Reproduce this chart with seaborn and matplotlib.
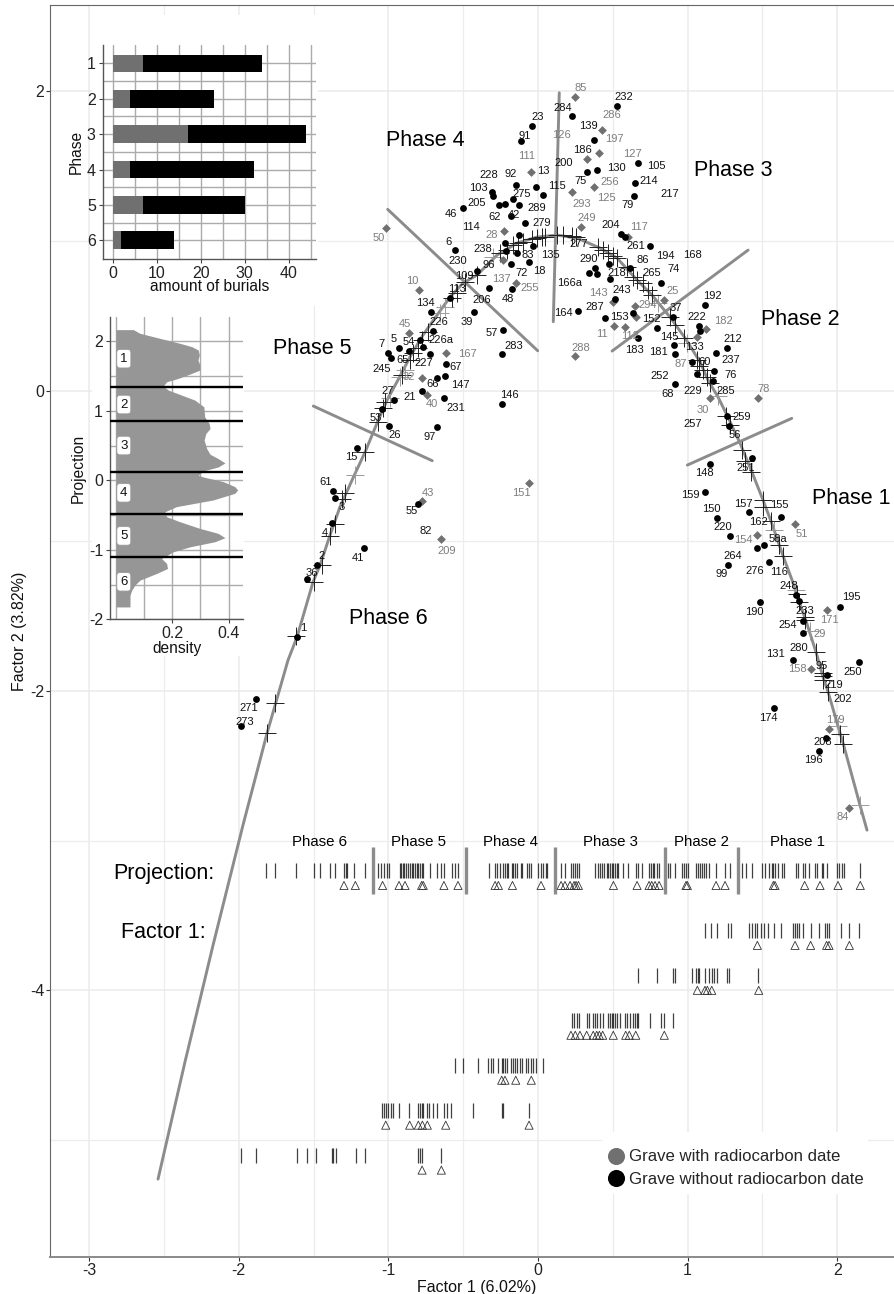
import pandas as pd
import matplotlib
matplotlib.use('Agg')
import matplotlib.pyplot as plt
from matplotlib.lines import Line2D
from matplotlib.patches import Rectangle
import seaborn as sns

# graves, correspondence analysis
black_x = [0.530, 0.227, -0.042, -0.114, 0.372, 0.328, 0.392, 0.670, 0.648, 0.644, -0.145, -0.013, 0.035, -0.307,
           -0.303, -0.165, -0.219, -0.263, -0.125, -0.503, -0.180, -0.085, -0.127, -0.223, -0.033, -0.140, -0.214,
           -0.553, -0.062, -0.182, -0.406, -0.176, -0.328, -0.588, -0.717, -0.430, -0.234, -0.243, -0.700, -0.789,
           -0.767, -0.927, -0.862, -1.001, -0.985, -0.720, -0.617, -0.622, -0.673, 0.553, 0.582, 0.749, 0.475, 0.381,
           0.343, 0.394, 0.483, 0.617, 0.265, 0.515, 0.448, 0.637, 0.670, 1.116, 0.904, 1.078, 1.083, 0.797, 0.911,
           0.916, 1.263, 1.192, 1.031, 1.176, 1.063, 1.172, 0.914, 1.265, 1.277, 1.430, 1.152, 1.116, 1.412, 1.622,
           1.197, 1.285, 1.462, 1.513, 1.544, 1.272, 1.725, 1.745, 1.484, 2.021, 1.771, 1.771, 2.148, 1.707, 1.932,
           1.580, 1.923, 1.880, -0.773, -0.630, -0.965, -1.041, -0.998, -0.673, -1.212, -1.372, -1.355, -1.379,
           -1.479, -1.542, -1.609, -1.163, -1.885, -1.985, -0.241, -0.802, 0.822]
black_y = [1.905, 1.834, 1.767, 1.667, 1.678, 1.462, 1.477, 1.524, 1.387, 1.304, 1.377, 1.362, 1.310, 1.328,
           1.302, 1.280, 1.250, 1.244, 1.242, 1.222, 1.168, 1.119, 1.039, 0.988, 0.968, 0.923, 0.933,
           0.941, 0.861, 0.846, 0.801, 0.681, 0.688, 0.621, 0.529, 0.527, 0.409, 0.245, 0.403, 0.340,
           0.296, 0.289, 0.269, 0.254, 0.222, 0.245, 0.180, 0.100, 0.089, 1.046, 1.030, 0.968, 0.846, 0.819,
           0.786, 0.783, 0.746, 0.821, 0.532, 0.614, 0.487, 0.522, 0.352, 0.574, 0.496, 0.436, 0.403, 0.423, 0.309,
           0.247, 0.289, 0.252, 0.194, 0.136, 0.113, 0.065, 0.049, -0.165, -0.232, -0.449, -0.485, -0.672, -0.810,
           -0.843, -0.846, -0.966, -1.050, -1.028, -1.140, -1.162, -1.360, -1.404, -1.411, -1.440, -1.537, -1.615,
           -1.809, -1.794, -1.898, -2.118, -2.318, -2.403, 0.002, -0.047, -0.060, -0.118, -0.234, -0.242, -0.380,
           -0.670, -0.714, -0.883, -1.160, -1.257, -1.640, -1.048, -2.056, -2.236, -0.087, -0.754, 0.723]

grey_x = [0.247, 0.426, 0.410, 0.326, -0.045, 0.225, 0.374, 0.285, 0.604, -0.227, -1.018, -0.149, -0.236, -0.797,
          -0.860, -0.617, -0.777, 0.247, 0.503, 0.506, 0.584, 0.650, 0.653, 0.844, 1.125, 1.065, 1.473, 1.152,
          1.716, 1.466, 1.934, 1.825, 1.945, 2.081, -0.744, -0.775, -0.648, -0.060]
grey_y = [1.961, 1.744, 1.591, 1.547, 1.462, 1.330, 1.362, 1.093, 1.030, 1.068, 1.086, 0.723, 0.874, 0.676,
          0.385, 0.252, 0.089, 0.232, 0.596, 0.434, 0.429, 0.569, 0.496, 0.607, 0.416, 0.358, -0.047, -0.049,
          -0.890, -0.959, -1.462, -1.854, -2.254, -2.782, -0.025, -0.734, -0.988, -0.614]

# principal curve
curve_x = [-2.540, -2.360, -2.172, -1.972, -1.811, -1.671, -1.611, -1.504, -1.457, -1.390, -1.324, -1.237, -1.156,
           -1.076, -1.009, -0.922, -0.856, -0.769, -0.675, -0.588, -0.501, -0.408, -0.274, -0.140, -0.007, 0.127,
           0.261, 0.414, 0.528, 0.662, 0.762, 0.882, 0.983, 1.083, 1.136, 1.203, 1.263, 1.350, 1.430, 1.504, 1.557,
           1.638, 1.698, 1.745, 1.785, 1.858, 1.905, 1.939, 2.005, 2.039, 2.152, 2.199]
curve_y = [-5.260, -4.479, -3.698, -2.897, -2.283, -1.796, -1.642, -1.275, -1.162, -0.961, -0.774, -0.581, -0.407,
           -0.214, -0.060, 0.100, 0.227, 0.374, 0.507, 0.628, 0.721, 0.774, 0.908, 0.988, 1.028, 1.041,
           1.021, 0.955, 0.888, 0.741, 0.641, 0.494, 0.354, 0.194, 0.073, -0.040, -0.160, -0.347, -0.541, -0.728,
           -0.868, -1.101, -1.262, -1.409, -1.515, -1.742, -1.909, -2.009, -2.236, -2.350, -2.764, -2.931]

# projections of the graves on the curve
cross_black_x = [1.729, 1.745, 1.785, 1.785, 1.858, 1.903, 1.907, 1.907, 1.936, 2.021, 2.041, 1.638, 1.611, 1.555,
                 1.506, 1.502, 1.426, 1.384, 1.362, 1.283, 1.255, 1.150, 1.128, 1.101, 1.078, 1.065, 0.976, 0.916,
                 0.882, 0.760, 0.735, 0.702, 0.660, 0.637, 0.593, 0.526, 0.503, 0.470, 0.436, 0.403, 0.254, 0.225,
                 0.169, 0.129, 0.047, 0.025, -0.009, -0.042, -0.098, -0.132, -0.165, -0.209, -0.254, -0.410, -0.488,
                 -0.543, -0.577, -0.733, -0.777, -0.800, -0.834, -0.856, -0.911, -1.023, -1.034, -1.068, -1.156,
                 -1.290, -1.312, -1.357, -1.390, -1.446, -1.497, -1.618, -1.758, -1.811]
cross_black_y = [-1.357, -1.407, -1.511, -1.529, -1.744, -1.885, -1.903, -1.929, -2.007, -2.288, -2.354, -1.101,
                 -1.028, -0.866, -0.772, -0.728, -0.543, -0.465, -0.394, -0.227, -0.165, 0.055, 0.095, 0.140, 0.167,
                 0.207, 0.352, 0.441, 0.492, 0.641, 0.674, 0.721, 0.741, 0.763, 0.830, 0.886, 0.901, 0.919, 0.941,
                 0.963, 1.030, 1.035, 1.040, 1.041, 1.030, 1.026, 1.019, 1.013, 0.997, 0.990, 0.975, 0.941, 0.919,
                 0.774, 0.730, 0.652, 0.619, 0.396, 0.340, 0.285, 0.252, 0.207, 0.107, -0.071, -0.115, -0.205,
                 -0.405, -0.679, -0.721, -0.888, -0.968, -1.162, -1.273, -1.636, -2.083, -2.283]
cross_grey_x = [1.725, 1.818, 2.003, 2.152, 1.580, 1.205, 0.994, 0.804, -0.299, -0.622, -0.655, -0.889, -0.922,
                -0.989, -1.223]
cross_grey_y = [-1.328, -1.600, -2.234, -2.761, -0.928, -0.033, 0.318, 0.585, 0.897, 0.562, 0.518, 0.140, 0.095,
                -0.049, -0.561]

# phase borders, pairs of end points
border_x = [[0.142, 0.102], [-1.005, -0.002], [0.495, 1.404], [0.998, 1.696], [-1.502, -0.707]]
border_y = [[1.991, 0.463], [1.213, 0.269], [0.267, 0.941], [-0.494, -0.182], [-0.100, -0.465]]
phase_limits = [1.337, 0.847, 0.116, -0.483, -1.103]

# rug rows
proj_ticks = [-1.821, -1.758, -1.620, -1.500, -1.460, -1.388, -1.357, -1.297, -1.286, -1.275, -1.230, -1.157, -1.070,
              -1.052, -1.032, -1.012, -0.994, -0.925, -0.916, -0.905, -0.894, -0.880, -0.867, -0.856, -0.845, -0.834,
              -0.823, -0.811, -0.800, -0.789, -0.776, -0.767, -0.724, -0.673, -0.651, -0.629, -0.577, -0.555, -0.533,
              -0.325, -0.287, -0.272, -0.254, -0.236, -0.221, -0.209, -0.198, -0.176, -0.165, -0.154, -0.143, -0.116,
              -0.105, -0.076, -0.060, -0.047, 0.002, 0.018, 0.036, 0.051, 0.062, 0.151, 0.180, 0.218, 0.232, 0.247,
              0.263, 0.274, 0.381, 0.403, 0.414, 0.426, 0.441, 0.459, 0.470, 0.481, 0.492, 0.504, 0.515, 0.526, 0.537,
              0.566, 0.604, 0.655, 0.671, 0.697, 0.744, 0.755, 0.766, 0.775, 0.798, 0.811, 0.871, 0.882, 0.916, 0.965,
              0.976, 0.989, 1.000, 1.056, 1.072, 1.083, 1.094, 1.110, 1.123, 1.145, 1.187, 1.250, 1.283, 1.361, 1.388,
              1.428, 1.495, 1.517, 1.546, 1.562, 1.573, 1.584, 1.606, 1.629, 1.644, 1.724, 1.740, 1.773, 1.785, 1.814,
              1.852, 1.867, 1.896, 1.907, 1.929, 2.001, 2.014, 2.030, 2.045, 2.152]
proj_dated = [-1.297, -1.221, -1.039, -0.929, -0.889, -0.778, -0.767, -0.629, -0.535, -0.287, -0.265, -0.171, 0.020,
              0.154, 0.180, 0.214, 0.241, 0.254, 0.270, 0.504, 0.662, 0.742, 0.760, 0.782, 0.809, 0.989, 0.998, 1.190,
              1.250, 1.573, 1.584, 1.782, 1.885, 2.005, 2.154]
f1_ticks = [1.116, 1.154, 1.199, 1.272, 1.288, 1.412, 1.428, 1.450, 1.466, 1.488, 1.511, 1.540, 1.577, 1.622, 1.707,
            1.718, 1.733, 1.747, 1.769, 1.822, 1.880, 1.918, 1.929, 1.945, 2.023, 2.081, 2.148]
f1_dated = [1.466, 1.718, 1.822, 1.929, 1.945, 2.081]
f2_ticks = [0.671, 0.793, 0.905, 0.914, 1.031, 1.056, 1.067, 1.078, 1.116, 1.145, 1.161, 1.176, 1.194, 1.266, 1.277,
            1.473]
f2_dated = [1.065, 1.116, 1.132, 1.161, 1.475]
f3_ticks = [0.225, 0.241, 0.258, 0.276, 0.325, 0.343, 0.369, 0.381, 0.392, 0.414, 0.432, 0.470, 0.481, 0.492, 0.503,
            0.514, 0.530, 0.548, 0.581, 0.597, 0.615, 0.637, 0.648, 0.659, 0.670, 0.748, 0.820, 0.844, 0.900]
f3_dated = [0.220, 0.249, 0.280, 0.325, 0.369, 0.392, 0.410, 0.432, 0.503, 0.586, 0.610, 0.653, 0.844]
f4_ticks = [-0.555, -0.504, -0.403, -0.332, -0.316, -0.299, -0.265, -0.243, -0.232, -0.221, -0.210, -0.183, -0.170,
            -0.154, -0.138, -0.120, -0.109, -0.083, -0.065, -0.049, -0.031, -0.013, 0.035]
f4_dated = [-0.243, -0.221, -0.149, -0.045]
f5_ticks = [-1.045, -1.030, -1.016, -1.000, -0.985, -0.967, -0.927, -0.862, -0.800, -0.789, -0.778, -0.767, -0.744,
            -0.726, -0.704, -0.673, -0.628, -0.611, -0.584, -0.432, -0.243, -0.232, -0.062]
f5_dated = [-1.018, -0.858, -0.800, -0.773, -0.740, -0.617, -0.060]
f6_ticks = [-1.985, -1.885, -1.613, -1.542, -1.484, -1.379, -1.368, -1.350, -1.217, -1.156, -0.800, -0.789, -0.778,
            -0.646]
f6_dated = [-0.775, -0.646]
row_levels = [-3.2, -3.6, -3.9, -4.2, -4.5, -4.8, -5.1]

# inset data
phases = ['1', '2', '3', '4', '5', '6']
n_dated = [7, 4, 17, 4, 7, 2]
n_undated = [27, 19, 27, 28, 23, 12]

dens_y = [2.168, 2.115, 2.043, 1.971, 1.923, 1.875, 1.803, 1.731, 1.659, 1.587, 1.529, 1.466, 1.418, 1.356, 1.298,
          1.226, 1.154, 1.058, 0.913, 0.817, 0.745, 0.673, 0.577, 0.457, 0.375, 0.312, 0.250, 0.192, 0.135, 0.072,
          0.048, -0.019, -0.091, -0.139, -0.187, -0.283, -0.379, -0.452, -0.524, -0.596, -0.692, -0.764, -0.826,
          -0.884, -0.957, -1.029, -1.125, -1.197, -1.269, -1.341, -1.437, -1.510, -1.582, -1.654, -1.750, -1.822]
dens_x = [0.062, 0.085, 0.156, 0.227, 0.269, 0.292, 0.296, 0.291, 0.298, 0.298, 0.263, 0.221, 0.180, 0.168, 0.186,
          0.233, 0.280, 0.312, 0.315, 0.331, 0.334, 0.319, 0.313, 0.322, 0.334, 0.363, 0.387, 0.363, 0.310, 0.292,
          0.310, 0.381, 0.422, 0.432, 0.422, 0.345, 0.215, 0.174, 0.180, 0.227, 0.298, 0.363, 0.387,
          0.351, 0.263, 0.203, 0.162, 0.180, 0.183, 0.144, 0.085, 0.067, 0.056, 0.050, 0.050, 0.050]
phase_label_y = [1.75, 1.09, 0.5, -0.18, -0.80, -1.46]

# grave numbers, placed by hand like the repelled labels of the source
black_names = ['232', '284', '23', '91', '139', '186', '200', '130', '13', '228', '92', '103', '275', '115', '75',
               '79', '205', '46', '289', '62', '42', '279', '204', '114', '135', '18', '6', '238', '83', '230', '96',
               '72', '109', '277', '290', '261', '86', '218', '166a', '243', '287', '164', '153', '183', '48', '206',
               '113', '134', '39', '226', '57', '283', '226a', '5', '54', '7', '65', '227', '67', '245', '66', '147',
               '21', '231', '27', '53', '26', '97', '15', '61', '3', '4', '2', '36', '1', '41', '55', '82', '271',
               '273', '146', '192', '37', '222', '152', '145', '133', '212', '181', '237', '60', '76', '252', '285',
               '229', '68', '259', '257', '56', '148', '251', '159', '157', '155', '150', '162', '220', '58a', '264',
               '276', '116', '99', '248', '195', '233', '190', '254', '131', '280', '95', '250', '219', '202', '174',
               '208', '196', '105', '217', '214', '194', '168', '74', '265']
black_pos = [(624, 97), (563, 108), (538, 117), (525, 136), (588, 126), (582, 150), (564, 163), (616, 168), (543, 171),
             (489, 175), (511, 174), (478, 188), (522, 194), (557, 186), (581, 181), (628, 205), (477, 203), (451, 214),
             (537, 208), (495, 217), (514, 215), (542, 223), (611, 225), (471, 227), (550, 255), (539, 271), (449, 242),
             (483, 249), (528, 255), (458, 261), (489, 265), (522, 273), (464, 276), (579, 244), (589, 259), (636, 246),
             (643, 260), (617, 273), (570, 283), (622, 290), (595, 307), (563, 313), (619, 317), (634, 350), (508, 299),
             (482, 300), (457, 289), (425, 303), (467, 322), (439, 322), (492, 333), (514, 346), (441, 340), (394, 339),
             (409, 342), (381, 344), (403, 360), (424, 363), (456, 367), (382, 369), (433, 384), (460, 385), (410, 397),
             (456, 408), (388, 391), (376, 418), (395, 435), (430, 437), (351, 457), (326, 482), (342, 507), (325, 533),
             (322, 556), (312, 573), (303, 628), (358, 558), (412, 511), (426, 531), (249, 708), (245, 722), (509, 395),
             (712, 296), (676, 308), (697, 317), (651, 319), (669, 337), (694, 347), (733, 339), (658, 352), (731, 360),
             (705, 362), (731, 375), (660, 376), (726, 391), (693, 391), (668, 394), (742, 417), (693, 424), (735, 435),
             (704, 473), (746, 468), (690, 495), (743, 504), (779, 505), (711, 509), (758, 522), (723, 527), (778, 539),
             (733, 556), (755, 571), (779, 572), (722, 574), (789, 586), (851, 597), (805, 611), (754, 612), (788, 625),
             (775, 654), (799, 648), (822, 666), (853, 672), (834, 685), (843, 699), (768, 718), (823, 742), (813, 760),
             (656, 166), (670, 194), (649, 181), (665, 256), (692, 255), (674, 269), (652, 273)]
grey_names = ['85', '286', '197', '127', '111', '126', '256', '125', '293', '249', '117', '50', '28', '137', '255',
              '10', '143', '45', '167', '11', '288', '112', '25', '294', '182', '87', '78', '30', '51', '154', '171',
              '29', '158', '179', '84', '40', '32', '43', '209', '151']
grey_pos = [(581, 88), (612, 115), (614, 139), (632, 154), (527, 156), (561, 135), (610, 182), (606, 198), (582, 204),
            (587, 218), (639, 227), (379, 238), (492, 235), (501, 279), (530, 288), (412, 281), (598, 293), (405, 324),
            (467, 354), (602, 334), (581, 348), (630, 336), (673, 291), (648, 305), (723, 321), (681, 364), (764, 389),
            (703, 410), (802, 534), (743, 540), (829, 620), (820, 634), (797, 669), (835, 720), (843, 817), (432, 404),
            (409, 377), (428, 493), (447, 551), (521, 493)]

big_phase_names = ['Phase 1', 'Phase 2', 'Phase 3', 'Phase 4', 'Phase 5', 'Phase 6']
big_phase_pos = [(851, 499), (800, 319), (733, 170), (425, 140), (312, 348), (388, 619)]
rug_phase_pos = [(798, 842), (702, 842), (610, 842), (511, 842), (419, 842), (320, 842)]

W, H = 895, 1294
DARK = '#707070'
INSET_GRID = '#ababab'


def fx(px):
    return px / W


def fy(py):
    return 1 - py / H


sns.set_theme(style='white')
plt.rcParams['font.family'] = ['Liberation Sans', 'DejaVu Sans']
plt.rcParams['axes.unicode_minus'] = False

fig = plt.figure(figsize=(W / 100, H / 100), dpi=100)
ax = fig.add_axes([fx(50), fy(1257), fx(895) - fx(50), fy(5) - fy(1257)])
ax.set_xlim(-3.262, 2.386)
ax.set_ylim(-5.78, 2.577)

ax.set_xticks(range(-3, 3))
ax.set_yticks([-4, -2, 0, 2])
ax.set_xticks([-2.5, -1.5, -0.5, 0.5, 1.5], minor=True)
ax.set_yticks([-5, -3, -1, 1], minor=True)
ax.grid(which='major', color='#ebebeb', lw=1.1)
ax.grid(which='minor', color='#ededed', lw=0.9)
ax.set_axisbelow(True)
ax.tick_params(which='major', length=3, width=0.8, color='#333333', labelsize=11.5, labelcolor='#222222',
               bottom=True, left=True, pad=1)
ax.tick_params(which='minor', length=0)
for side, s in ax.spines.items():
    s.set_color('#8a8a8a' if side == 'bottom' else '#666666')
    s.set_linewidth(1.4 if side == 'bottom' else 0.8)
ax.set_xlabel('Factor 1 (6.02%)', fontsize=11.5, color='#111111', labelpad=1)
ax.xaxis.set_label_coords(fx(477 - 50) / (fx(895) - fx(50)), -0.018)
ax.set_ylabel('Factor 2 (3.82%)', fontsize=11.5, color='#111111', labelpad=2.2)

# white boxes of the insets sit on top of the grid
for x0, y0, x1, y1 in [(92, 15, 318, 306), (92, 306, 244, 656), (602, 1132, 868, 1194)]:
    ax.add_patch(Rectangle((fx(x0), fy(y1)), fx(x1) - fx(x0), fy(y0) - fy(y1), transform=fig.transFigure,
                           facecolor='white', edgecolor='none', zorder=1))

sns.lineplot(x=curve_x, y=curve_y, sort=False, estimator=None, color='#8c8c8c', lw=2.1, ax=ax, zorder=3)
for bx, by in zip(border_x, border_y):
    sns.lineplot(x=bx, y=by, sort=False, estimator=None, color='#8c8c8c', lw=2.1, ax=ax, zorder=3)

sns.scatterplot(x=cross_grey_x, y=cross_grey_y, marker='+', s=150, color='#9a9a9a', linewidth=0.7, ax=ax, zorder=4)
sns.scatterplot(x=cross_black_x, y=cross_black_y, marker='+', s=150, color='#202020', linewidth=0.7, ax=ax, zorder=4)
sns.scatterplot(x=grey_x, y=grey_y, marker='D', s=20, color=DARK, linewidth=0, ax=ax, zorder=5)
sns.scatterplot(x=black_x, y=black_y, marker='o', s=24, color='black', linewidth=0, ax=ax, zorder=5)

# rug rows
rows = [(proj_ticks, proj_dated), (f1_ticks, f1_dated), (f2_ticks, f2_dated), (f3_ticks, f3_dated),
        (f4_ticks, f4_dated), (f5_ticks, f5_dated), (f6_ticks, f6_dated)]
for (ticks, dated), level in zip(rows, row_levels):
    ax.vlines(ticks, level - 0.05, level + 0.05, color='black', lw=0.9, alpha=0.75, zorder=3)
    sns.scatterplot(x=dated, y=[level - 0.1] * len(dated), marker='^', s=34, facecolor='none', edgecolor='#333333',
                    linewidth=0.6, ax=ax, zorder=3)
ax.vlines(phase_limits, -3.36, -3.04, color='#8c8c8c', lw=2.4, zorder=3)

handles = [Line2D([], [], marker='o', ls='', color=DARK, ms=12.3, mew=0, label='Grave with radiocarbon date'),
           Line2D([], [], marker='o', ls='', color='black', ms=12.3, mew=0, label='Grave without radiocarbon date')]
ax.legend(handles=handles, loc='center left', bbox_to_anchor=(fx(606), fy(1168)), bbox_transform=fig.transFigure,
          frameon=False, fontsize=12.1, labelspacing=0.42, handletextpad=0.17, borderpad=0, borderaxespad=0,
          handlelength=1.2)

# texts
for name, (px, py) in zip(black_names, black_pos, strict=True):
    fig.text(fx(px), fy(py), name, ha='center', va='center', fontsize=8, color='#111111', zorder=6)
for name, (px, py) in zip(grey_names, grey_pos, strict=True):
    fig.text(fx(px), fy(py), name, ha='center', va='center', fontsize=8, color='#7d7d7d', zorder=6)
for name, (px, py) in zip(big_phase_names, big_phase_pos):
    fig.text(fx(px), fy(py), name, ha='center', va='center', fontsize=15.5, color='black')
for name, (px, py) in zip(big_phase_names, rug_phase_pos):
    fig.text(fx(px), fy(py), name, ha='center', va='center', fontsize=10.8, color='black')
fig.text(fx(164), fy(873), 'Projection:', ha='center', va='center', fontsize=15.5, color='black')
fig.text(fx(163), fy(933), 'Factor 1:', ha='center', va='center', fontsize=15.5, color='black')

# bar inset
df_bar = pd.DataFrame({'phase': phases, 'dated': n_dated, 'undated': n_undated})
df_bar['total'] = df_bar.dated + df_bar.undated
ax_bar = fig.add_axes([fx(102.7), fy(258.7), fx(316) - fx(102.7), fy(45) - fy(258.7)], zorder=2)
ax_bar.patch.set_alpha(0)
sns.barplot(data=df_bar, x='total', y='phase', color='black', width=0.5, saturation=1, linewidth=0, ax=ax_bar,
            zorder=3)
sns.barplot(data=df_bar, x='dated', y='phase', color=DARK, width=0.5, saturation=1, linewidth=0, ax=ax_bar, zorder=3)
ax_bar.set_xlim(-2.27, 46.2)
ax_bar.set_ylim(5.52, -0.52)
ax_bar.set_xticks([0, 10, 20, 30, 40])
ax_bar.set_xticks([5, 15, 25, 35, 45], minor=True)
ax_bar.set_yticks([0.5, 1.5, 2.5, 3.5, 4.5], minor=True)
ax_bar.grid(which='both', color=INSET_GRID, lw=1.0)
ax_bar.set_axisbelow(True)
ax_bar.tick_params(which='major', length=3, width=0.8, color='#444444', labelsize=11.5, labelcolor='#222222',
                   bottom=True, left=True, pad=2)
ax_bar.tick_params(which='minor', length=0)
ax_bar.set_xlabel('amount of burials', fontsize=11.2, color='#111111', labelpad=-1)
ax_bar.set_ylabel('Phase', fontsize=11.2, color='#111111', labelpad=2)
for side in ['top', 'right']:
    ax_bar.spines[side].set_visible(False)
for side in ['left', 'bottom']:
    ax_bar.spines[side].set_color('#555555')
    ax_bar.spines[side].set_linewidth(1.0)

# density inset
ax_d = fig.add_axes([fx(110), fy(619.3), fx(243.3) - fx(110), fy(316.7) - fy(619.3)], zorder=2)
ax_d.patch.set_alpha(0)
ax_d.set_xlim(-0.021, 0.452)
ax_d.set_ylim(-2, 2.354)
ax_d.set_xticks([0.2, 0.4])
ax_d.set_xticks([0, 0.1, 0.3], minor=True)
ax_d.set_yticks([-2, -1, 0, 1, 2])
ax_d.set_yticks([-1.5, -0.5, 0.5, 1.5], minor=True)
ax_d.grid(which='both', color=INSET_GRID, lw=1.0)
ax_d.set_axisbelow(True)
ax_d.fill_betweenx(dens_y, 0, dens_x, color='#969696', lw=0, zorder=2)
ax_d.hlines(phase_limits, -0.021, 0.452, color='black', lw=1.7, zorder=3)
for name, yy in zip(phases, phase_label_y):
    ax_d.text(0.028, yy, name, ha='center', va='center', fontsize=9.5, color='#111111', zorder=4,
              bbox=dict(boxstyle='round,pad=0.25', facecolor='white', edgecolor='#999999', lw=0.6))
ax_d.set_yticklabels(['-2', '-1', '0', '1', '2'])
ax_d.tick_params(which='major', length=3, width=0.8, color='#444444', labelsize=11.5, labelcolor='#222222',
                 bottom=True, left=True, pad=2)
ax_d.tick_params(which='minor', length=0)
ax_d.set_xlabel('density', fontsize=11.2, color='#111111', labelpad=0)
ax_d.set_ylabel('Projection', fontsize=11.2, color='#111111', labelpad=2)
for side in ['top', 'right']:
    ax_d.spines[side].set_visible(False)
for side in ['left', 'bottom']:
    ax_d.spines[side].set_color('#555555')
    ax_d.spines[side].set_linewidth(1.0)

fig.savefig('out.png', dpi=100)
